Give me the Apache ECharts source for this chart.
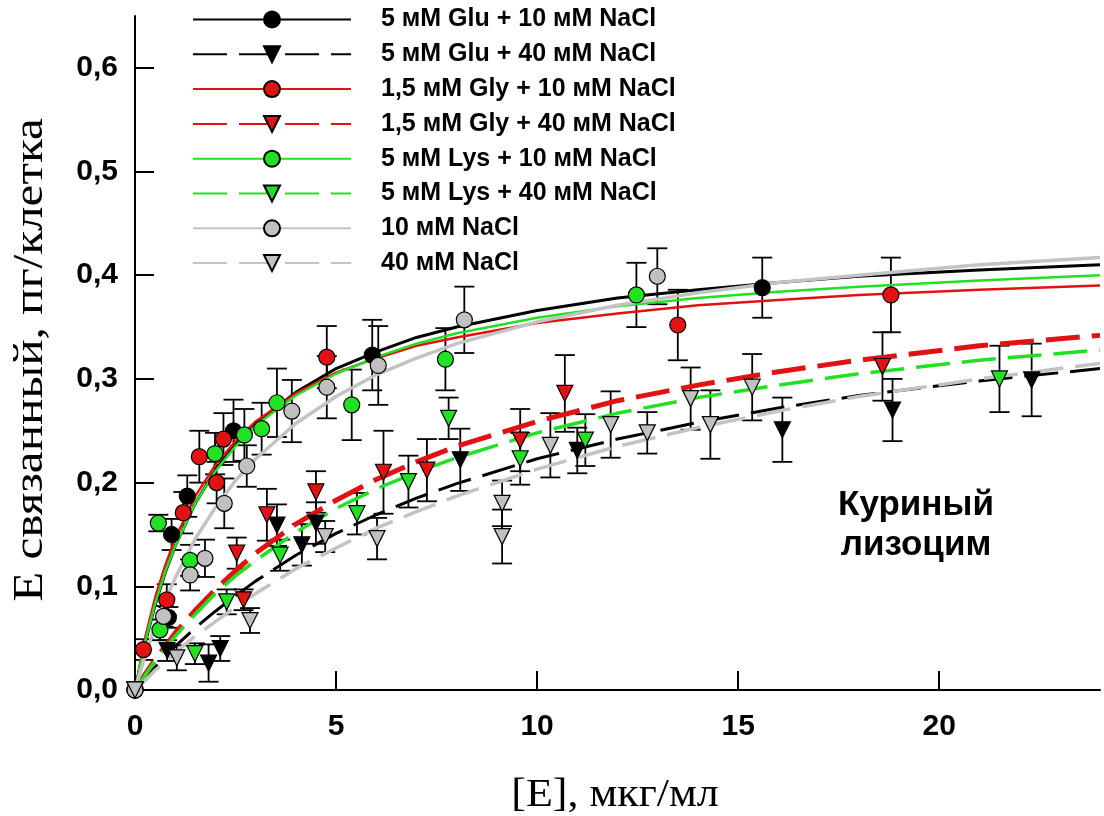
<!DOCTYPE html>
<html>
<head>
<meta charset="utf-8">
<script src="https://cdn.jsdelivr.net/npm/echarts@6/dist/echarts.min.js"></script>
<style>html,body{margin:0;padding:0;background:#fff}#c{width:1104px;height:816px}</style>
</head>
<body>
<div id="c"></div>
<script>
// ---------- DATA ----------
const seriesNames = [
  '5 мМ Glu + 10 мМ NaCl',
  '5 мМ Glu + 40 мМ NaCl',
  '1,5 мМ Gly + 10 мМ NaCl',
  '1,5 мМ Gly + 40 мМ NaCl',
  '5 мМ Lys + 10 мМ NaCl',
  '5 мМ Lys + 40 мМ NaCl',
  '10 мМ NaCl',
  '40 мМ NaCl'
];
const xTitle = '[E], мкг/мл';
const yTitle = 'E связанный, пг/клетка';
const noteLines = ['Куриный', 'лизоцим'];
const xTicks = [0, 5, 10, 15, 20];
const yTicks = [0, 0.1, 0.2, 0.3, 0.4, 0.5, 0.6];

// fitted curves
const curveX     = [0, 0.25, 0.5, 0.75, 1, 1.5, 2, 2.5, 3, 4, 5, 6, 7, 8, 10, 12, 14, 16, 18, 21, 24];
const fitGlu10   = [0, 0.045, 0.082, 0.113, 0.139, 0.180, 0.212, 0.237, 0.257, 0.287, 0.310, 0.326, 0.340, 0.350, 0.366, 0.378, 0.386, 0.393, 0.399, 0.405, 0.410];
const fitGlu40   = [0, 0.011, 0.022, 0.032, 0.042, 0.060, 0.076, 0.091, 0.105, 0.130, 0.151, 0.169, 0.185, 0.199, 0.223, 0.242, 0.258, 0.272, 0.284, 0.298, 0.310];
const fitGly10   = [0, 0.050, 0.089, 0.120, 0.146, 0.187, 0.217, 0.240, 0.259, 0.286, 0.306, 0.320, 0.332, 0.340, 0.354, 0.363, 0.371, 0.376, 0.381, 0.386, 0.390];
const fitGly40   = [0, 0.015, 0.029, 0.042, 0.055, 0.077, 0.097, 0.115, 0.132, 0.160, 0.183, 0.203, 0.220, 0.235, 0.259, 0.279, 0.294, 0.307, 0.318, 0.332, 0.342];
const fitLys10   = [0, 0.046, 0.083, 0.114, 0.139, 0.180, 0.211, 0.235, 0.255, 0.284, 0.305, 0.321, 0.334, 0.344, 0.359, 0.370, 0.378, 0.384, 0.389, 0.395, 0.400];
const fitLys40   = [0, 0.014, 0.028, 0.040, 0.052, 0.073, 0.093, 0.110, 0.125, 0.152, 0.175, 0.194, 0.210, 0.224, 0.248, 0.267, 0.282, 0.294, 0.305, 0.318, 0.328];
const fitNaCl10  = [0, 0.033, 0.061, 0.086, 0.108, 0.146, 0.176, 0.202, 0.223, 0.257, 0.283, 0.304, 0.320, 0.334, 0.355, 0.371, 0.383, 0.393, 0.400, 0.410, 0.417];
const fitNaCl40  = [0, 0.009, 0.019, 0.027, 0.036, 0.052, 0.066, 0.080, 0.093, 0.117, 0.137, 0.156, 0.172, 0.187, 0.213, 0.235, 0.253, 0.269, 0.283, 0.300, 0.315];

// measured points: x, y, error
const glu10X = [0, 0.83, 0.91, 1.30, 2.45, 5.90, 15.6];
const glu10Y = [0, 0.070, 0.150, 0.187, 0.250, 0.323, 0.388];
const glu10E = [0, 0.010, 0.015, 0.020, 0.030, 0.034, 0.029];

const glu40X = [0, 0.80, 1.83, 2.12, 3.53, 4.15, 4.50, 8.09, 11.0, 16.1, 18.84, 22.3];
const glu40Y = [0, 0.038, 0.026, 0.040, 0.159, 0.140, 0.161, 0.222, 0.231, 0.251, 0.270, 0.299];
const glu40E = [0, 0.010, 0.018, 0.012, 0.020, 0.020, 0.020, 0.030, 0.022, 0.031, 0.030, 0.035];

const gly10X = [0, 0.21, 0.79, 1.20, 1.60, 2.03, 2.20, 4.77, 13.5, 18.8];
const gly10Y = [0, 0.039, 0.087, 0.171, 0.225, 0.200, 0.242, 0.321, 0.352, 0.381];
const gly10E = [0, 0.010, 0.015, 0.020, 0.025, 0.020, 0.025, 0.030, 0.034, 0.036];

const gly40X = [0, 2.53, 2.70, 3.28, 4.50, 6.18, 7.26, 9.58, 10.69, 18.59];
const gly40Y = [0, 0.132, 0.087, 0.169, 0.191, 0.210, 0.212, 0.241, 0.286, 0.312];
const gly40E = [0, 0.015, 0.010, 0.025, 0.020, 0.040, 0.030, 0.030, 0.037, 0.033];

const lys10X = [0, 0.58, 0.62, 1.37, 1.99, 2.72, 3.15, 3.53, 5.39, 7.72, 12.47];
const lys10Y = [0, 0.161, 0.058, 0.125, 0.228, 0.246, 0.252, 0.277, 0.275, 0.319, 0.381];
const lys10E = [0, 0.008, 0.010, 0.015, 0.020, 0.025, 0.025, 0.033, 0.034, 0.030, 0.031];

const lys40X = [0, 1.49, 2.28, 3.61, 5.52, 6.80, 7.80, 9.58, 11.2, 21.5];
const lys40Y = [0, 0.035, 0.085, 0.130, 0.170, 0.201, 0.262, 0.223, 0.241, 0.300];
const lys40E = [0, 0.010, 0.012, 0.015, 0.020, 0.025, 0.020, 0.025, 0.025, 0.032];

const nacl10X = [0, 0.71, 1.37, 1.74, 2.22, 2.78, 3.90, 4.77, 6.05, 8.19, 12.99];
const nacl10Y = [0, 0.071, 0.111, 0.127, 0.180, 0.216, 0.269, 0.292, 0.313, 0.357, 0.399];
const nacl10E = [0, 0.010, 0.015, 0.018, 0.024, 0.020, 0.030, 0.030, 0.038, 0.032, 0.027];

const nacl40X = [0, 1.04, 2.86, 4.73, 6.02, 9.13, 9.13, 10.33, 11.83, 12.74, 13.82, 14.31, 15.35];
const nacl40Y = [0, 0.031, 0.067, 0.148, 0.146, 0.180, 0.148, 0.236, 0.256, 0.248, 0.281, 0.256, 0.292];
const nacl40E = [0, 0.012, 0.012, 0.015, 0.020, 0.022, 0.026, 0.031, 0.032, 0.020, 0.030, 0.033, 0.032];

// ---------- BUILD ----------
const RED = '#e31212', GREEN = '#22e022', GRAY = '#c3c3c3', GRAYFILL = '#c0c0c0';
const defs = [
  {fit: fitGlu10,  X: glu10X,  Y: glu10Y,  E: glu10E,  line: '#000', fill: '#000', w: 3,   dash: 'solid', sym: 'circle'},
  {fit: fitGlu40,  X: glu40X,  Y: glu40Y,  E: glu40E,  line: '#000', fill: '#000', w: 3,   dash: [34, 12], sym: 'triangle'},
  {fit: fitGly10,  X: gly10X,  Y: gly10Y,  E: gly10E,  line: RED,    fill: RED,    w: 2.5, dash: 'solid', sym: 'circle'},
  {fit: fitGly40,  X: gly40X,  Y: gly40Y,  E: gly40E,  line: RED,    fill: RED,    w: 5,   dash: [34, 12], sym: 'triangle'},
  {fit: fitLys10,  X: lys10X,  Y: lys10Y,  E: lys10E,  line: GREEN,  fill: GREEN,  w: 2.5, dash: 'solid', sym: 'circle'},
  {fit: fitLys40,  X: lys40X,  Y: lys40Y,  E: lys40E,  line: GREEN,  fill: GREEN,  w: 3.5, dash: [34, 12], sym: 'triangle'},
  {fit: fitNaCl10, X: nacl10X, Y: nacl10Y, E: nacl10E, line: GRAY,   fill: GRAYFILL, w: 3.5, dash: 'solid', sym: 'circle'},
  {fit: fitNaCl40, X: nacl40X, Y: nacl40Y, E: nacl40E, line: GRAY,   fill: GRAYFILL, w: 3.5, dash: [34, 12], sym: 'triangle'}
];

function errRender(params, api) {
  const x = api.value(0), y = api.value(1), e = api.value(2);
  if (!e) return null;
  const t = api.coord([x, y + e]), b = api.coord([x, y - e]);
  const hw = 10, st = {stroke: '#000', lineWidth: 1.8};
  return {type: 'group', children: [
    {type: 'line', shape: {x1: t[0], y1: t[1], x2: b[0], y2: b[1]}, style: st},
    {type: 'line', shape: {x1: t[0] - hw, y1: t[1], x2: t[0] + hw, y2: t[1]}, style: st},
    {type: 'line', shape: {x1: b[0] - hw, y1: b[1], x2: b[0] + hw, y2: b[1]}, style: st}
  ]};
}

const series = [];
defs.forEach((d, i) => {
  series.push({
    name: seriesNames[i], type: 'line', z: 3,
    data: curveX.map((x, k) => [x, d.fit[k]]),
    smooth: false,
    showSymbol: false, symbol: d.sym, symbolSize: 16, symbolRotate: d.sym === 'triangle' ? 180 : 0,
    lineStyle: {color: d.line, width: d.w, type: d.dash, join: 'round'},
    itemStyle: {color: d.fill, borderColor: '#000', borderWidth: 1.2},
    emphasis: {disabled: true}, animation: false
  });
});
defs.forEach((d, i) => {
  series.push({
    name: 'err' + i, type: 'custom', z: 2, renderItem: errRender, clip: true,
    data: d.X.map((x, k) => [x, d.Y[k], d.E[k]]),
    encode: {x: 0, y: 1}, animation: false, silent: true
  });
});
defs.forEach((d, i) => {
  series.push({
    name: 'pts' + i, type: 'scatter', z: 4,
    data: d.X.map((x, k) => [x, d.Y[k]]),
    symbol: d.sym, symbolSize: 16, symbolRotate: d.sym === 'triangle' ? 180 : 0,
    itemStyle: {color: d.fill, borderColor: '#000', borderWidth: 1.2, opacity: 1},
    emphasis: {disabled: true}, animation: false, clip: false
  });
});

const chart = echarts.init(document.getElementById('c'), null, {renderer: 'canvas'});
chart.setOption({
  backgroundColor: '#fff',
  animation: false,
  grid: {left: 135, right: 4, top: 16, bottom: 126, containLabel: false},
  legend: {
    orient: 'vertical', left: 192, top: 7, padding: 0,
    itemWidth: 158, itemHeight: 20, itemGap: 9.8,
    selectedMode: false,
    data: seriesNames,
    textStyle: {fontFamily: 'Liberation Sans, Arial, sans-serif', fontWeight: 'bold', fontSize: 25, color: '#000', padding: [0, 0, 0, 25]}
  },
  xAxis: {
    type: 'value', min: 0, max: 24,
    axisLine: {show: true, onZero: false, lineStyle: {color: '#000', width: 2}},
    axisTick: {show: true, inside: true, length: 19, customValues: xTicks, lineStyle: {color: '#000', width: 2}},
    axisLabel: {customValues: xTicks, margin: 22, color: '#000', fontFamily: 'Liberation Sans, Arial, sans-serif', fontWeight: 'bold', fontSize: 30},
    splitLine: {show: false}
  },
  yAxis: {
    type: 'value', min: 0, max: 0.65,
    axisLine: {show: true, onZero: false, lineStyle: {color: '#000', width: 2}},
    axisTick: {show: true, inside: true, length: 19, customValues: yTicks, lineStyle: {color: '#000', width: 2}},
    axisLabel: {customValues: yTicks, margin: 17, color: '#000', fontFamily: 'Liberation Sans, Arial, sans-serif', fontWeight: 'bold', fontSize: 30,
      formatter: v => v.toFixed(1).replace('.', ',')},
    splitLine: {show: false}
  },
  graphic: [
    {type: 'text', z: 10, x: 615, y: 795, scaleX: 1.1,
      style: {text: xTitle, x: 0, y: 0, textAlign: 'center', textVerticalAlign: 'middle',
        font: '40px "Liberation Serif", "Times New Roman", serif', fill: '#000'}},
    {type: 'text', z: 10, x: 31, y: 360, rotation: Math.PI / 2, scaleX: 1.17,
      style: {text: yTitle, x: 0, y: 0, textAlign: 'center', textVerticalAlign: 'middle',
        font: '42px "Liberation Serif", "Times New Roman", serif', fill: '#000'}},
    {type: 'text', z: 10, style: {text: noteLines[0], x: 916, y: 505, textAlign: 'center', textVerticalAlign: 'middle',
      font: 'bold 35px "Liberation Sans", Arial, sans-serif', fill: '#000'}},
    {type: 'text', z: 10, style: {text: noteLines[1], x: 916, y: 545, textAlign: 'center', textVerticalAlign: 'middle',
      font: 'bold 35px "Liberation Sans", Arial, sans-serif', fill: '#000'}}
  ],
  series: series
});
</script>
</body>
</html>
